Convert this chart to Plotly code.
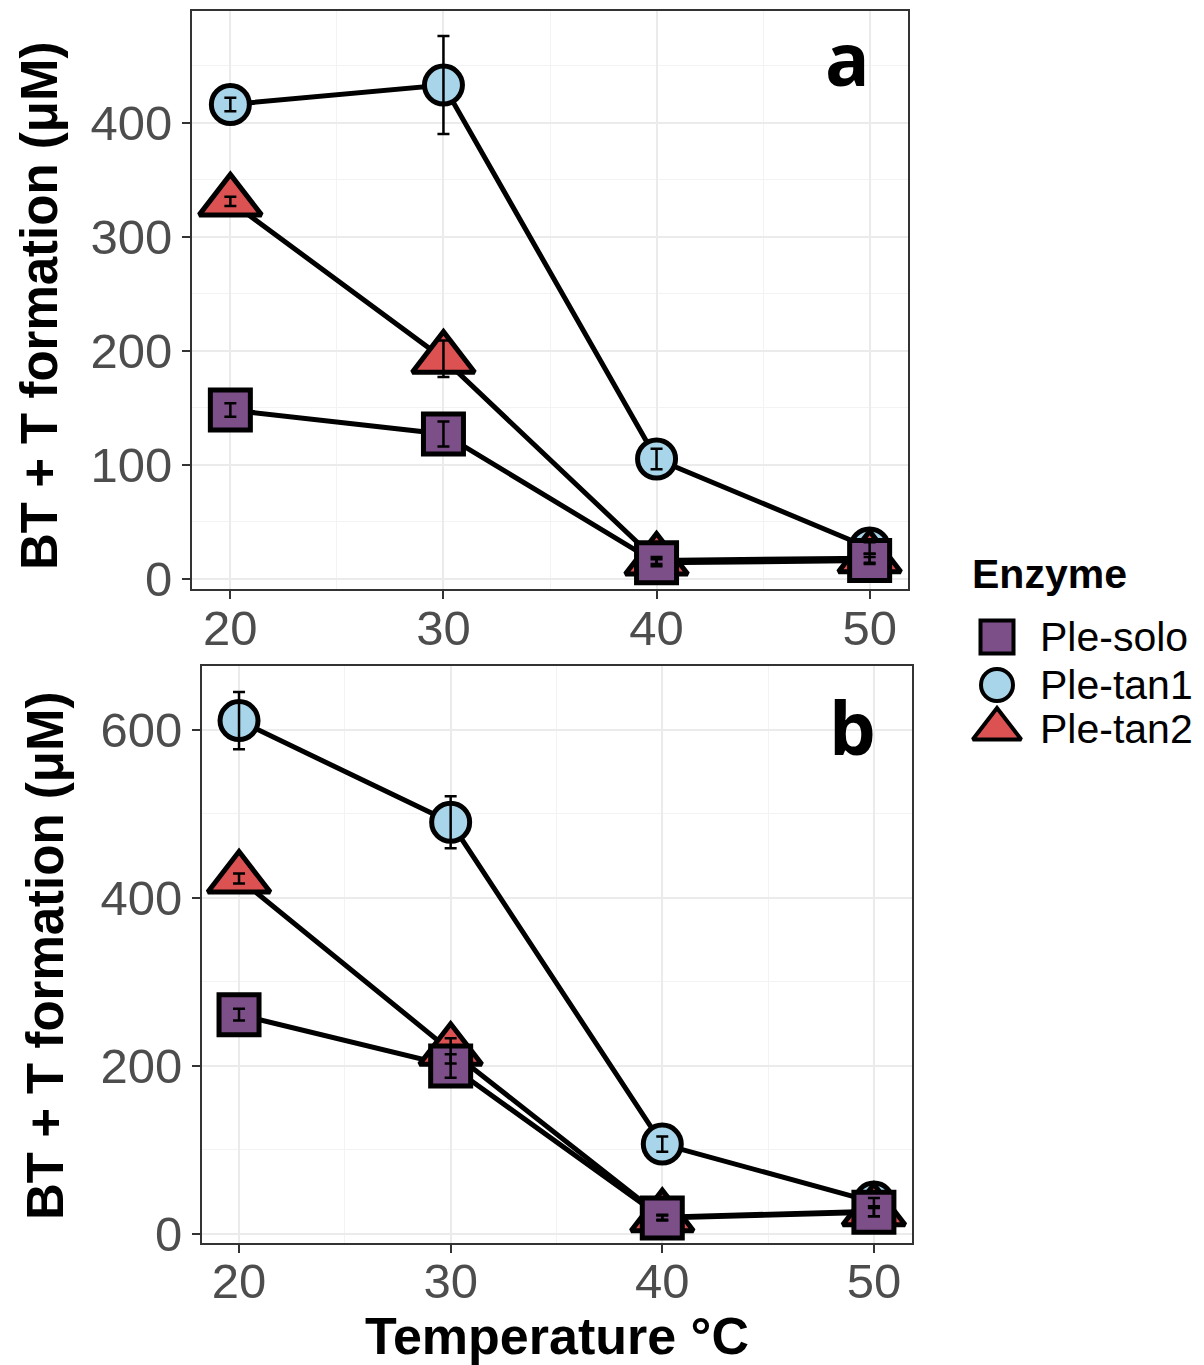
import plotly.graph_objects as go

# ---------------- data ----------------
temps = [20, 30, 40, 50]
enzymes = ["Ple-solo", "Ple-tan1", "Ple-tan2"]

a_solo = [148, 127, 14, 16]
a_solo_err = [6, 11, 3, 3]
a_tan1 = [416, 433, 105, 27]
a_tan1_err = [6, 43, 9, 5]
a_tan2 = [331, 193, 16, 18]
a_tan2_err = [4, 16, 3, 4]

b_solo = [261, 200, 19, 26]
b_solo_err = [7, 14, 3, 5]
b_tan1 = [611, 490, 107, 38]
b_tan1_err = [34, 31, 9, 5]
b_tan2 = [423, 218, 20, 27]
b_tan2_err = [6, 15, 3, 6]

a_yticks = [0, 100, 200, 300, 400]
b_yticks = [0, 200, 400, 600]
x_ticks = [20, 30, 40, 50]

y_title = "<b>BT + T formation (μM)</b>"
x_title = "<b>Temperature °C</b>"

# ---------------- styles ----------------
colors = {"Ple-solo": "#7D4F88", "Ple-tan1": "#A8D5EA", "Ple-tan2": "#DC5253"}
symbols = {"Ple-solo": "square", "Ple-tan1": "circle", "Ple-tan2": "triangle-up"}
msize = {"Ple-solo": 40, "Ple-tan1": 38, "Ple-tan2": 54}
draw_order = ["Ple-tan1", "Ple-tan2", "Ple-solo"]

FONT = "Liberation Sans, Arial, sans-serif"

panels = [
    ("x", "y", {"Ple-solo": (a_solo, a_solo_err), "Ple-tan1": (a_tan1, a_tan1_err), "Ple-tan2": (a_tan2, a_tan2_err)}),
    ("x2", "y2", {"Ple-solo": (b_solo, b_solo_err), "Ple-tan1": (b_tan1, b_tan1_err), "Ple-tan2": (b_tan2, b_tan2_err)}),
]

fig = go.Figure()

for xa, ya, d in panels:
    # lines first
    for e in draw_order:
        fig.add_trace(go.Scatter(x=temps, y=d[e][0], mode="lines", xaxis=xa, yaxis=ya,
                                 line=dict(color="black", width=5), showlegend=False, hoverinfo="skip"))
    # markers
    for e in draw_order:
        fig.add_trace(go.Scatter(x=temps, y=d[e][0], mode="markers", xaxis=xa, yaxis=ya, name=e,
                                 marker=dict(symbol=symbols[e], size=msize[e], color=colors[e],
                                             line=dict(color="black", width=5)),
                                 showlegend=False))
    # error bars on top
    for e in draw_order:
        fig.add_trace(go.Scatter(x=temps, y=d[e][0], mode="markers", xaxis=xa, yaxis=ya,
                                 marker=dict(size=1, color="rgba(0,0,0,0)"),
                                 error_y=dict(type="data", array=d[e][1], color="black", thickness=2.5, width=6),
                                 showlegend=False, hoverinfo="skip"))

# ---------------- custom legend ----------------
legend_x = 997
legend_y = [637, 685, 729]
legend_size = {"Ple-solo": 33, "Ple-tan1": 32, "Ple-tan2": 42}
for e, yy in zip(enzymes, legend_y):
    fig.add_trace(go.Scatter(x=[legend_x], y=[yy], mode="markers", xaxis="x3", yaxis="y3",
                             marker=dict(symbol=symbols[e], size=legend_size[e], color=colors[e],
                                         line=dict(color="black", width=4)),
                             showlegend=False, hoverinfo="skip"))

annotations = []
for e, yy in zip(enzymes, legend_y):
    annotations.append(dict(x=1038, y=yy, xref="x3", yref="y3", text=e, showarrow=False,
                            xanchor="left", yanchor="middle", font=dict(family=FONT, size=41, color="black")))
annotations.append(dict(x=970, y=574, xref="x3", yref="y3", text="<b>Enzyme</b>", showarrow=False,
                        xanchor="left", yanchor="middle", font=dict(family=FONT, size=41, color="black")))
annotations.append(dict(x=848 / 1204, y=1 - 58 / 1365, xref="paper", yref="paper", text="<b>a</b>",
                        showarrow=False, xanchor="center", yanchor="middle",
                        font=dict(family="Open Sans, sans-serif", size=74, color="black")))
annotations.append(dict(x=852 / 1204, y=1 - 726 / 1365, xref="paper", yref="paper", text="<b>b</b>",
                        showarrow=False, xanchor="center", yanchor="middle",
                        font=dict(family="Open Sans, sans-serif", size=74, color="black")))
# y-axis titles
annotations.append(dict(x=39 / 1204, y=1 - 306 / 1365, xref="paper", yref="paper", text=y_title, textangle=-90,
                        showarrow=False, xanchor="center", yanchor="middle",
                        font=dict(family=FONT, size=51, color="black")))
annotations.append(dict(x=46 / 1204, y=1 - 956 / 1365, xref="paper", yref="paper", text=y_title, textangle=-90,
                        showarrow=False, xanchor="center", yanchor="middle",
                        font=dict(family=FONT, size=51, color="black")))

common_axis = dict(showline=True, mirror=True, linecolor="#333333", linewidth=2,
                   ticks="outside", ticklen=8, tickwidth=2, tickcolor="#333333",
                   showgrid=True, gridcolor="#EBEBEB", gridwidth=2, zeroline=False,
                   automargin=False,
                   tickfont=dict(family=FONT, size=49, color="#4D4D4D"))

fig.update_layout(
    width=1204, height=1365,
    margin=dict(l=0, r=0, t=0, b=0, autoexpand=False),
    paper_bgcolor="white", plot_bgcolor="rgba(0,0,0,0)",
    showlegend=False,
    xaxis=dict(domain=[192 / 1204, 908 / 1204], range=[18.2, 51.8], tickvals=x_ticks, anchor="y",
               ticklabelstandoff=-13,
               minor=dict(tickvals=[25, 35, 45], showgrid=True, gridcolor="#F3F3F3", gridwidth=1, ticks=""),
               **common_axis),
    yaxis=dict(domain=[1 - 589 / 1365, 1 - 11 / 1365], range=[-9, 498], tickvals=a_yticks, anchor="x",
               minor=dict(tickvals=[50, 150, 250, 350, 450], showgrid=True, gridcolor="#F3F3F3", gridwidth=1, ticks=""),
               **common_axis),
    xaxis2=dict(domain=[202 / 1204, 912 / 1204], range=[18.25, 51.8], tickvals=x_ticks, anchor="y2",
                ticklabelstandoff=-14,
                minor=dict(tickvals=[25, 35, 45], showgrid=True, gridcolor="#F3F3F3", gridwidth=1, ticks=""),
                title=dict(text=x_title, font=dict(family=FONT, size=52, color="black"), standoff=6),
                **common_axis),
    yaxis2=dict(domain=[1 - 1243 / 1365, 1 - 666 / 1365], range=[-10.7, 676], tickvals=b_yticks, anchor="x2",
                minor=dict(tickvals=[100, 300, 500], showgrid=True, gridcolor="#F3F3F3", gridwidth=1, ticks=""),
                **common_axis),
    xaxis3=dict(domain=[951 / 1204, 1.0], range=[951, 1204], visible=False, anchor="y3", fixedrange=True,
                automargin=False),
    yaxis3=dict(domain=[1 - 778 / 1365, 1 - 532 / 1365], range=[778, 532], visible=False, anchor="x3",
                fixedrange=True, automargin=False),
    annotations=annotations,
)

fig.write_html("out.html")
